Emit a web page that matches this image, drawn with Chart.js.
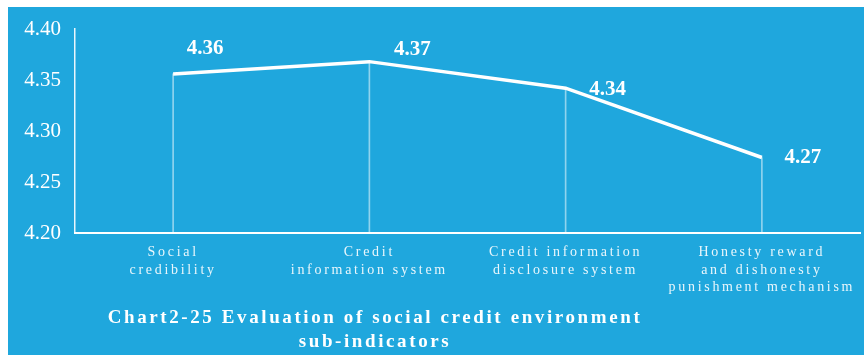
<!DOCTYPE html>
<html>
<head>
<meta charset="utf-8">
<script src="https://cdn.jsdelivr.net/npm/chart.js@4"></script>
<style>
  html, body { margin: 0; padding: 0; background: #ffffff; width: 864px; height: 355px; overflow: hidden; }
  #wrap { position: absolute; left: 8px; top: 7px; width: 856px; height: 348px; background: #1fa7dd; }
  canvas { display: block; }
</style>
</head>
<body>
<div id="wrap"><canvas id="c"></canvas></div>
<script>
const categories = [
  ["Social", "credibility"],
  ["Credit", "information system"],
  ["Credit information", "disclosure system"],
  ["Honesty reward", "and dishonesty", "punishment mechanism"]
];
const scores = [4.356, 4.368, 4.342, 4.274];
const yTicks = [4.20, 4.25, 4.30, 4.35, 4.40];
const titleLines = ["Chart2-25 Evaluation of social credit environment", "sub-indicators"];

const SERIF = "'Liberation Serif', 'Times New Roman', serif";

const spacedXLabels = {
  id: 'spacedXLabels',
  beforeDraw(chart) {
    const s = chart.scales.x;
    if (!s._spaced) {
      const orig = s.drawLabels;
      s.drawLabels = function (area) {
        const ctx = this.ctx;
        ctx.save();
        ctx.letterSpacing = '2.7px';
        orig.call(this, area);
        ctx.restore();
      };
      s._spaced = true;
    }
  }
};

const valueLabels = {
  id: 'valueLabels',
  afterDatasetsDraw(chart, args, opts) {
    const ctx = chart.ctx;
    const meta = chart.getDatasetMeta(1);
    ctx.save();
    ctx.font = 'bold 21px ' + SERIF;
    ctx.fillStyle = '#ffffff';
    ctx.textAlign = 'center';
    ctx.textBaseline = 'middle';
    meta.data.forEach((pt, i) => {
      const off = opts.offsets[i];
      ctx.fillText(scores[i].toFixed(2), pt.x + off[0], pt.y + off[1]);
    });
    ctx.restore();
  }
};

const bottomTitle = {
  id: 'bottomTitle',
  afterDraw(chart, args, opts) {
    const ctx = chart.ctx;
    ctx.save();
    ctx.font = 'bold 19px ' + SERIF;
    ctx.letterSpacing = '2.6px';
    ctx.fillStyle = '#ffffff';
    ctx.textAlign = 'center';
    ctx.textBaseline = 'middle';
    titleLines.forEach((t, i) => {
      ctx.fillText(t, opts.x, opts.y + i * opts.lineHeight);
    });
    ctx.restore();
  }
};

new Chart(document.getElementById('c'), {
  data: {
    labels: categories,
    datasets: [
      {
        type: 'bar',
        data: scores.map(v => [yTicks[0], v]),
        backgroundColor: 'rgba(255,255,255,0.5)',
        barThickness: 1,
        order: 2
      },
      {
        type: 'line',
        data: scores,
        borderColor: '#ffffff',
        borderWidth: 3.5,
        pointRadius: 0,
        tension: 0,
        fill: false,
        order: 1
      }
    ]
  },
  options: {
    responsive: true,
    maintainAspectRatio: false,
    animation: false,
    layout: { padding: { top: 22, right: 4, left: 0, bottom: 0 } },
    plugins: {
      legend: { display: false },
      tooltip: { enabled: false },
      valueLabels: { offsets: [[32, -25], [43, -12], [42, 1], [41, 0]] },
      bottomTitle: { x: 367, y: 311, lineHeight: 24 }
    },
    scales: {
      x: {
        type: 'category',
        offset: true,
        grid: { display: false, drawTicks: false },
        border: { display: true, color: '#ffffff', width: 2 },
        ticks: {
          color: 'rgba(255,255,255,0.9)',
          font: { family: SERIF, size: 14, lineHeight: 1.28 },
          padding: 10,
          maxRotation: 0,
          autoSkip: false
        },
        afterFit(scale) { scale.height = 122; scale.paddingLeft = 0; scale.paddingRight = 0; }
      },
      y: {
        min: yTicks[0],
        max: yTicks[yTicks.length - 1],
        afterBuildTicks(scale) { scale.ticks = yTicks.map(v => ({ value: v })); },
        grid: { display: false, drawTicks: false },
        border: { display: true, color: 'rgba(255,255,255,0.9)', width: 1.5 },
        ticks: {
          color: '#ffffff',
          font: { family: SERIF, size: 21 },
          padding: 14,
          callback: v => Number(v).toFixed(2)
        },
        afterFit(scale) { scale.width = 67; scale.paddingTop = 0; scale.paddingBottom = 0; }
      }
    }
  },
  plugins: [spacedXLabels, valueLabels, bottomTitle]
});
</script>
</body>
</html>
